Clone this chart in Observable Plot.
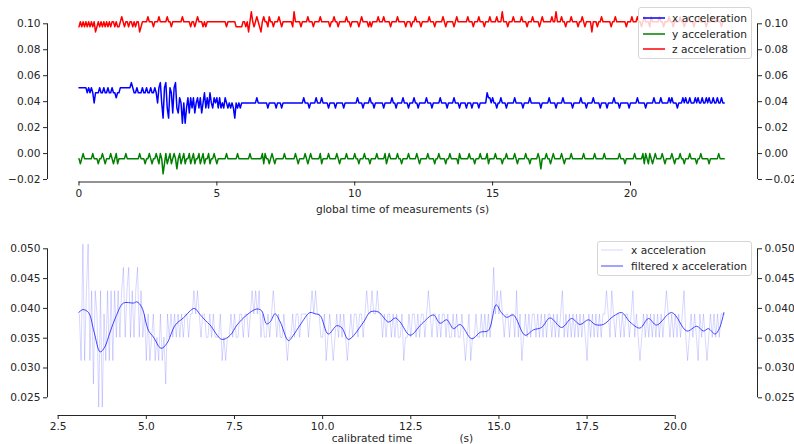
<!DOCTYPE html>
<html>
<head>
<meta charset="utf-8">
<script src="https://cdn.jsdelivr.net/npm/d3@7"></script>
<script src="https://cdn.jsdelivr.net/npm/@observablehq/plot@0.6"></script>
<style>
  html, body { margin: 0; padding: 0; background: white; }
  #wrap { position: relative; width: 794px; height: 444px; overflow: hidden; font-family: "DejaVu Sans", sans-serif; }
  .legend { position: absolute; background: rgba(255,255,255,0.8); border: 1px solid #d6d6d6; border-radius: 3px; box-sizing: border-box; font-size: 10.6px; color: #222; }
  .legend .row { position: absolute; left: 0; height: 14px; line-height: 14px; white-space: nowrap; }
  .legend svg { position: absolute; top: 0; }
  .legend .lb { position: absolute; top: 0; }
</style>
</head>
<body>
<div id="wrap"></div>
<script>
// ---------- DATA (sensor counts, 1 count = 1/256) ----------
const COUNT = 1 / 256;

// top panel: global time, sampled every 0.05 s from 0 s (one row of 20 = 1 s)
const topT0 = 0, topDt = 0.05;
const xTopCounts = [
  13,13,13,13,13,13,12,13,12,13,12,10,12,12,12,13,12,12,13,12,
  12,13,12,12,13,12,12,11,12,12,13,13,13,13,13,13,13,13,14,13,
  12,12,13,12,12,12,13,12,12,13,12,12,13,12,12,13,12,10,13,14,
  10,7,13,14,9,7,13,12,8,13,14,9,8,11,10,6,10,6,9,11,
  8,11,9,11,8,10,11,9,11,8,10,12,9,11,9,12,10,9,11,10,
  11,9,11,9,10,9,11,10,9,10,9,10,9,7,10,9,10,9,10,10,
  10,10,10,10,10,10,10,10,10,11,10,10,10,10,10,10,10,9,10,10,
  10,10,10,9,10,10,10,9,10,10,10,10,10,10,10,10,10,10,10,10,
  10,10,10,11,10,10,10,9,10,10,10,10,11,10,10,10,11,10,10,10,
  10,9,10,10,10,10,9,10,10,10,10,10,9,10,10,10,10,10,10,10,
  10,10,11,10,10,10,9,10,10,10,10,11,10,10,9,10,10,10,10,10,
  10,9,10,10,10,10,10,11,10,10,9,10,10,10,10,11,10,10,10,9,
  10,10,10,11,10,10,9,10,10,10,10,10,11,10,10,10,9,10,10,10,
  10,10,11,10,10,10,10,9,10,10,10,10,11,10,10,10,9,10,10,10,
  10,9,10,10,10,9,10,10,10,10,9,10,10,10,10,10,12,11,11,10,
  11,10,10,9,10,10,11,10,10,10,9,10,10,10,10,10,11,10,10,10,
  10,10,9,10,10,10,10,11,10,10,10,10,10,10,10,9,10,10,10,10,
  10,11,10,10,10,10,9,10,10,10,10,11,10,10,10,10,10,10,9,10,
  10,10,10,10,11,10,10,10,9,10,10,10,10,11,10,10,10,10,9,10,
  10,10,10,9,10,10,10,10,11,10,10,10,9,10,10,10,10,10,10,9,
  10,10,10,10,10,11,10,10,10,10,10,9,10,10,10,10,10,11,10,10,
  10,10,11,10,10,10,10,10,11,10,11,10,10,10,9,10,10,10,11,10,
  11,10,10,11,10,10,10,11,10,11,10,10,11,10,10,11,10,11,10,10,
  11,10,10,11,10,10,11,10,10
];
const yTopCounts = [
  -1,-2,-1,0,-1,-1,-1,-1,-1,-1,0,-1,-1,-1,-2,-1,-1,0,-1,-2,
  -1,-1,-1,0,-1,-2,-1,0,-2,-1,-1,-1,-1,-1,0,-1,-1,-1,-1,-1,
  -1,-1,-1,-1,0,-1,-1,-1,-2,-1,-1,0,-1,-2,-1,-1,0,-1,-2,0,
  -1,-4,-2,0,-2,-1,0,-2,-1,0,-1,-3,-1,0,-2,-1,0,-2,-1,-1,
  0,-2,-1,0,-2,-1,-1,0,-2,-1,0,-2,-1,-1,0,-2,-1,-1,0,-1,
  -2,-1,-1,-1,-1,-1,-1,0,-1,-1,-1,-1,-1,-1,-1,0,-1,-1,-1,-1,
  -1,-1,-1,-1,0,-1,-1,-1,-1,-1,-1,-1,-1,0,-2,0,-1,-1,-2,-1,
  0,-1,-2,-1,-1,-1,-1,-1,-1,0,-1,-1,-1,-1,-1,-1,-1,0,-1,-2,
  -1,-1,-1,-1,0,-1,-2,-1,0,-1,-1,-1,-1,-1,-1,0,-2,-1,-1,-1,
  -1,0,-1,-1,-1,-1,-1,0,-1,-2,-1,-1,-1,-1,0,-1,-1,-1,-1,-1,
  0,-1,-1,-2,-1,-1,-1,0,-1,-1,-1,-2,-1,-1,-1,-1,0,-1,-1,-1,
  -1,-1,0,-2,-1,0,-1,-1,-1,-1,-1,0,-1,-1,-2,-1,-1,-1,-1,0,
  -1,-1,-1,-1,-1,0,-1,-2,-1,-1,-1,-1,-1,0,-1,-1,-1,-1,-2,-1,
  -1,0,-1,-1,-1,-1,-2,-1,-1,0,-1,-1,-1,-1,-1,-2,0,-1,-1,-1,
  -1,-1,-1,0,-1,-1,-1,-2,-1,-1,-1,0,-1,-1,-1,-1,0,-2,-1,-1,
  -1,-1,0,-1,-1,-1,-1,-2,-1,-1,0,-1,-1,-1,-1,-1,0,-1,-2,-1,
  -1,-1,-1,-1,0,-1,-1,-2,-1,-1,-1,-1,-1,0,-1,-3,-1,-1,-1,0,
  -1,-1,-2,-1,0,-1,-1,-1,-1,-1,0,-1,-2,-1,-1,-1,-1,0,-1,-1,
  -1,-1,-1,-1,-1,-1,0,-1,-1,-1,-1,-1,-1,-1,0,-1,-1,-1,-1,-1,
  -1,0,-1,-1,-1,-1,-1,-1,-1,-1,-1,-1,0,-1,-1,-1,-2,-1,-1,-1,
  -1,-1,-1,0,-1,-1,-1,-1,-1,0,-2,0,-1,-2,0,-1,-2,-1,0,-1,
  -1,-1,-1,0,-1,-2,-1,-1,-1,-1,0,-1,-2,-1,-1,-1,0,-1,-1,-2,
  -1,-1,-1,0,-1,-1,-1,-1,-2,-1,-1,0,-1,-1,-1,-1,-1,-2,-1,-1,
  -1,-1,-1,-1,0,-1,-1,-1,-1
];
const zTopCounts = [
  25,26,25,26,25,26,25,26,25,26,25,26,24,25,26,25,26,25,26,25,
  26,25,26,25,26,26,25,26,25,25,26,27,26,25,26,26,25,26,26,25,
  26,25,26,26,24,25,26,26,26,26,27,26,26,26,25,26,26,26,27,26,
  26,26,26,26,27,26,26,25,26,26,26,26,26,26,26,27,26,26,26,26,
  26,25,26,26,25,26,27,26,26,26,25,26,25,26,26,26,26,26,26,26,
  26,26,26,26,26,26,26,25,26,26,26,26,26,26,25,25,25,25,25,26,
  26,25,26,24,26,28,26,25,26,27,26,25,24,26,27,26,26,25,27,26,
  26,25,26,26,26,27,26,25,26,26,26,26,26,26,26,25,28,26,26,26,
  26,25,26,26,26,26,27,26,26,26,25,26,26,26,26,27,26,26,26,26,
  26,26,25,26,26,27,26,26,25,26,26,26,26,26,27,26,26,25,26,26,
  26,26,26,25,26,27,26,26,26,26,25,26,25,26,26,26,26,27,26,26,
  26,27,26,26,26,26,25,26,26,26,26,27,26,26,26,26,26,25,26,26,
  26,25,26,26,27,26,26,26,25,26,26,26,26,26,27,26,26,26,25,26,
  26,26,26,26,27,26,25,26,26,26,26,26,25,26,27,26,26,26,26,26,
  26,26,27,26,26,26,25,26,26,26,27,26,26,26,25,26,26,26,27,26,
  26,26,26,27,26,26,26,28,26,26,26,25,26,26,26,27,26,26,26,26,
  26,27,26,26,26,25,26,26,26,27,26,26,26,26,25,26,27,26,26,26,
  26,26,26,27,26,26,28,26,26,26,27,26,26,25,26,26,26,27,26,26,
  26,26,25,26,26,27,26,25,26,26,26,26,24,26,26,26,25,26,26,27,
  26,26,26,26,26,26,25,26,26,27,26,26,26,26,26,26,26,25,26,26,
  26,27,26,26,26,27,26,26,25,26,27,26,26,26,25,27,26,26,26,26,
  26,27,26,26,25,26,26,26,27,26,26,25,26,26,26,26,27,26,26,25,
  26,26,27,26,26,26,25,26,26,26,27,26,26,26,26,25,26,26,26,27,
  26,26,26,27,26,26,25,26,26
];

// bottom panel: calibrated time, raw x sampled every 0.05 s from 3.1 s
const botT0 = 3.1, botDt = 0.05;
const xRawCounts = [
  10,8,13,8,11,13,8,11,
  7,11,10,6,11,6,10,8,11,8, 11,8,11,9,11,9,11,12,9,11,
  12,9,11,9,11,12,9,11,9,10, 8,10,8,9,10,8,9,8,10,8,
  9,7,10,9,10,9,10,9,10,9, 10,9,10,10,9,10,10,11,10,11,
  10,9,10,10,9,9,10,9,10,9, 9,9,10,8,9,8,9,9,10,9,
  10,9,9,10,10,9,10,10,9,10, 11,10,11,10,11,9,10,9,9,10,
  9,10,11,10,9,10,9,9,10,9, 8,9,9,10,9,10,10,9,10,10,
  10,10,9,10,11,10,11,10,10,9, 9,10,8,9,10,9,8,9,10,9,
  10,9,10,9,8,9,10,9,10,10, 9,10,10,9,10,11,10,10,11,10,
  10,11,10,10,9,10,9,10,10,9, 10,9,10,9,9,10,8,9,9,10,
  9,10,10,9,10,9,10,10,9,10, 11,10,9,10,10,9,10,9,10,10,
  9,10,9,9,10,9,10,9,9,10, 9,8,9,10,8,9,9,10,9,9,
  10,9,10,9,10,9,10,12,10,11, 10,11,10,9,10,10,9,10,10,9,
  11,9,10,8,9,10,9,10,9,10, 10,9,10,9,10,9,10,9,10,10,
  9,10,9,10,9,10,11,9,10,9, 10,9,10,9,10,9,10,9,10,9,
  8,10,9,10,9,10,9,10,9,10, 10,11,10,9,11,10,9,10,10,9,
  10,9,10,10,9,10,11,9,10,9, 8,9,10,9,10,9,10,9,10,9,
  10,9,10,9,10,11,10,9,10,9, 10,9,10,9,10,11,9,8,9,10,
  9,10,9,8,10,9,10,9,8,9, 10,9,10,9,10,9,10,10,10
];

// filtered x acceleration
const filtT = [3.08,3.20,3.36,3.52,3.69,3.82,3.97,4.15,4.35,4.64,4.73,4.87,5.06,5.20,5.42,5.58,5.82,6.05,6.36,6.52,6.67,6.81,7.14,7.38,7.57,7.85,8.13,8.27,8.41,8.52,8.65,8.80,9.03,9.17,9.36,9.64,9.78,9.93,10.16,10.40,10.55,10.73,11.16,11.35,11.58,11.87,12.06,12.20,12.48,12.81,13.14,13.33,13.52,13.71,13.90,14.23,14.47,14.70,14.92,15.07,15.22,15.41,15.74,15.98,16.21,16.45,16.78,17.06,17.30,17.54,17.73,17.96,18.25,18.48,18.72,19.00,19.24,19.47,19.90,20.33,20.61,20.80,20.94,21.13,21.25,21.38];
const filtV = [0.0393,0.0398,0.0393,0.0360,0.0327,0.0335,0.0360,0.0388,0.0409,0.0409,0.0411,0.0402,0.0363,0.0352,0.0333,0.0341,0.0372,0.0384,0.0400,0.0390,0.0380,0.0372,0.0348,0.0355,0.0372,0.0389,0.0399,0.0396,0.0374,0.0378,0.0391,0.0377,0.0346,0.0355,0.0372,0.0393,0.0391,0.0388,0.0357,0.0371,0.0367,0.0348,0.0377,0.0394,0.0394,0.0377,0.0384,0.0377,0.0355,0.0374,0.0389,0.0375,0.0381,0.0366,0.0373,0.0349,0.0360,0.0363,0.0406,0.0393,0.0385,0.0389,0.0355,0.0364,0.0368,0.0384,0.0368,0.0383,0.0373,0.0381,0.0373,0.0373,0.0387,0.0393,0.0377,0.0367,0.0383,0.0372,0.0393,0.0362,0.0370,0.0362,0.0366,0.0357,0.0366,0.0393];

// ticks / axis settings
const topXTicks = [0, 5, 10, 15, 20];
const topYTicks = [-0.02, 0.00, 0.02, 0.04, 0.06, 0.08, 0.10];
const botXTicks = [2.5, 5.0, 7.5, 10.0, 12.5, 15.0, 17.5, 20.0];
const botYTicks = [0.025, 0.030, 0.035, 0.040, 0.045, 0.050];
const topSeries = ["x acceleration", "y acceleration", "z acceleration"];
const topColors = ["#0000ff", "#008000", "#ff0000"];
const botSeries = ["x acceleration", "filtered x acceleration"];
const topXLabel = "global time of measurements (s)";
const botXLabel = "calibrated time              (s)";

(function () {
// ---------- build tables ----------
const topRows = [];
[xTopCounts, yTopCounts, zTopCounts].forEach((arr, s) => {
  arr.forEach((c, i) => topRows.push({series: topSeries[s], t: topT0 + i * topDt, v: c * COUNT}));
});
const rawRows = xRawCounts.map((c, i) => ({t: botT0 + i * botDt, v: c * COUNT}));
const filtRows = filtT.map((t, i) => ({t, v: filtV[i]}));

const INK = "#262626";
const FS = 10.6;
const wrap = document.getElementById("wrap");

// ---------- top chart ----------
const topXDom = [-1.142, 24.606];
const topYDom = [-0.0219, 0.1141];
const topPlot = Plot.plot({
  width: 794, height: 222,
  marginLeft: 47, marginRight: 37, marginTop: 5, marginBottom: 40.5,
  style: {fontFamily: "DejaVu Sans", fontSize: FS + "px", color: INK, background: "white", overflow: "visible"},
  x: {domain: topXDom},
  y: {domain: topYDom},
  color: {domain: topSeries, range: topColors},
  marks: [
    Plot.line(topRows, {x: "t", y: "v", z: "series", stroke: "series", strokeWidth: 1.5}),
    Plot.ruleX([topXDom[0]], {y1: topYTicks[0], y2: topYTicks[topYTicks.length - 1], stroke: INK}),
    Plot.ruleX([topXDom[1]], {y1: topYTicks[0], y2: topYTicks[topYTicks.length - 1], stroke: INK}),
    Plot.ruleY([topYDom[0]], {x1: topXTicks[0], x2: topXTicks[topXTicks.length - 1], stroke: INK}),
    Plot.axisY({anchor: "left", ticks: topYTicks, tickFormat: d3.format(".2f"), tickSize: 4, tickPadding: 3, label: null, fontSize: FS, stroke: INK, fill: INK}),
    Plot.axisY({anchor: "right", ticks: topYTicks, tickFormat: d3.format(".2f"), tickSize: 4, tickPadding: 3, label: null, fontSize: FS, stroke: INK, fill: INK}),
    Plot.axisX({anchor: "bottom", ticks: topXTicks, tickFormat: d => String(d), tickSize: 4, tickPadding: 3, label: null, fontSize: FS, stroke: INK, fill: INK}),
    Plot.text([topXLabel], {text: d => d, frameAnchor: "bottom", dy: 27.5, lineAnchor: "middle", fontSize: FS, fill: INK})
  ]
});
topPlot.style.position = "absolute"; topPlot.style.left = "0px"; topPlot.style.top = "0px";
wrap.appendChild(topPlot);

// ---------- bottom chart ----------
const botXDom = [2.197, 22.333];
const botYDom = [0.02203, 0.05156];
const botPlot = Plot.plot({
  width: 794, height: 222,
  marginLeft: 47, marginRight: 37, marginTop: 17, marginBottom: 29,
  style: {fontFamily: "DejaVu Sans", fontSize: FS + "px", color: INK, background: "transparent", overflow: "visible"},
  x: {domain: botXDom},
  y: {domain: botYDom},
  marks: [
    Plot.line(rawRows, {x: "t", y: "v", stroke: "#0000ff", strokeOpacity: 0.2, strokeWidth: 0.8}),
    Plot.line(filtRows, {x: "t", y: "v", stroke: "#0000ff", strokeOpacity: 0.72, strokeWidth: 1, curve: "catmull-rom"}),
    Plot.ruleX([botXDom[0]], {y1: botYTicks[0], y2: botYTicks[botYTicks.length - 1], stroke: INK}),
    Plot.ruleX([botXDom[1]], {y1: botYTicks[0], y2: botYTicks[botYTicks.length - 1], stroke: INK}),
    Plot.ruleY([botYDom[0]], {x1: botXTicks[0], x2: botXTicks[botXTicks.length - 1], stroke: INK}),
    Plot.axisY({anchor: "left", ticks: botYTicks, tickFormat: d3.format(".3f"), tickSize: 4, tickPadding: 3, label: null, fontSize: FS, stroke: INK, fill: INK}),
    Plot.axisY({anchor: "right", ticks: botYTicks, tickFormat: d3.format(".3f"), tickSize: 4, tickPadding: 3, label: null, fontSize: FS, stroke: INK, fill: INK}),
    Plot.axisX({anchor: "bottom", ticks: botXTicks, tickFormat: d3.format(".1f"), tickSize: 4, tickPadding: 3, label: null, fontSize: FS, stroke: INK, fill: INK}),
    Plot.text([botXLabel], {text: d => d, frameAnchor: "bottom", dy: 23.5, lineAnchor: "middle", fontSize: FS, fill: INK, style: "white-space:pre"})
  ]
});
botPlot.style.position = "absolute"; botPlot.style.left = "0px"; botPlot.style.top = "222px";
wrap.appendChild(botPlot);

// ---------- legends ----------
const NS = "http://www.w3.org/2000/svg";
function legend(items, box) {
  const d = document.createElement("div");
  d.className = "legend";
  Object.assign(d.style, {left: box.left + "px", top: box.top + "px", width: box.width + "px", height: box.height + "px"});
  items.forEach((it, i) => {
    const r = document.createElement("div");
    r.className = "row";
    r.style.top = (box.rowTop + i * box.rowStep - 7) + "px";
    const svg = document.createElementNS(NS, "svg");
    svg.setAttribute("width", 24); svg.setAttribute("height", 14);
    svg.style.left = box.swLeft + "px";
    const ln = document.createElementNS(NS, "line");
    ln.setAttribute("x1", 1); ln.setAttribute("x2", 23);
    ln.setAttribute("y1", 7); ln.setAttribute("y2", 7);
    ln.setAttribute("stroke", it.color);
    ln.setAttribute("stroke-width", it.width);
    ln.setAttribute("stroke-opacity", it.opacity);
    svg.appendChild(ln);
    const lb = document.createElement("div");
    lb.className = "lb";
    lb.style.left = box.textLeft + "px";
    lb.textContent = it.label;
    r.appendChild(svg); r.appendChild(lb);
    d.appendChild(r);
  });
  wrap.appendChild(d);
}
legend(topSeries.map((s, i) => ({label: s, color: topColors[i], width: 1.5, opacity: 1})),
  {left: 638, top: 7, width: 114, height: 52, rowTop: 10, rowStep: 15.5, swLeft: 2.5, textLeft: 33});
legend([
  {label: botSeries[0], color: "#0000ff", width: 0.8, opacity: 0.2},
  {label: botSeries[1], color: "#0000ff", width: 1, opacity: 0.72}
], {left: 597, top: 241, width: 155, height: 35, rowTop: 8, rowStep: 16, swLeft: 2, textLeft: 33});
})();
</script>
</body>
</html>
